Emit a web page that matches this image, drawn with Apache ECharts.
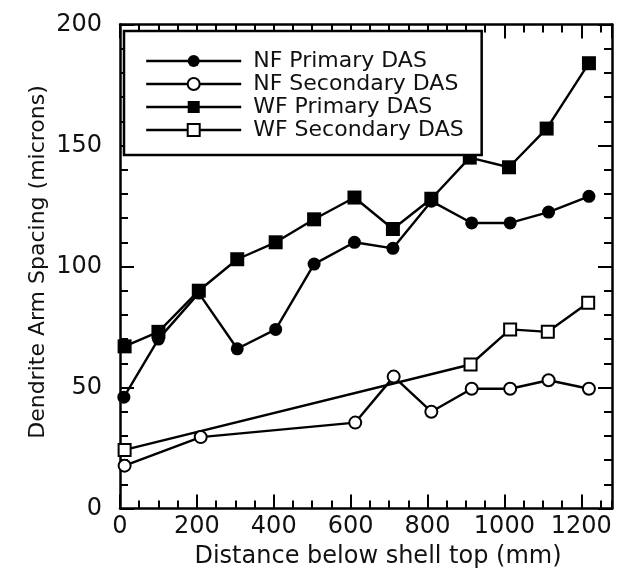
<!DOCTYPE html>
<html>
<head>
<meta charset="utf-8">
<script src="https://cdn.jsdelivr.net/npm/echarts@6/dist/echarts.min.js"></script>
<style>
  html, body { margin: 0; padding: 0; background: #fff; }
  #chart { width: 617px; height: 575px; }
</style>
</head>
<body>
<div id="chart"></div>
<script>
// Dendrite arm spacing vs. distance below shell top
const seriesNames = ['NF Primary DAS', 'NF Secondary DAS', 'WF Primary DAS', 'WF Secondary DAS'];

const nfPrimaryDist = [10, 100, 205, 305, 405, 505, 610, 710, 810, 915, 1015, 1115, 1220];
const nfPrimaryDas  = [46, 70, 89, 66, 74, 101, 110, 107.5, 127, 118, 118, 122.5, 129];

const nfSecondaryDist = [12, 210, 612, 712, 810, 915, 1015, 1115, 1220];
const nfSecondaryDas  = [17.7, 29.5, 35.5, 54.5, 40, 49.5, 49.5, 53, 49.5];

const wfPrimaryDist = [12, 100, 205, 305, 405, 505, 610, 710, 810, 910, 1012, 1110, 1220];
const wfPrimaryDas  = [67, 73, 90, 103, 110, 119.5, 128.5, 115.5, 128, 145, 141, 157, 184];

const wfSecondaryDist = [12, 912, 1015, 1113, 1218];
const wfSecondaryDas  = [24.2, 59.5, 74, 73, 85];

const xTickLabels = [0, 200, 400, 600, 800, 1000, 1200];
const yTickLabels = [0, 50, 100, 150, 200];

const xTitle = 'Distance below shell top (mm)';
const yTitle = 'Dendrite Arm Spacing (microns)';

const FONT = '"DejaVu Sans", sans-serif';
const INK = '#111';

function pairs(xs, ys) {
  return xs.map((x, i) => [x, ys[i]]);
}

const X_MIN = xTickLabels[0];
const X_MAX = 1280;
const X_STEP = xTickLabels[1] - xTickLabels[0];
const Y_MIN = yTickLabels[0];
const Y_MAX = yTickLabels[yTickLabels.length - 1];
const Y_STEP = yTickLabels[1] - yTickLabels[0];

const lineColor = '#000';
const FRAME_W = 2.5;
const LINE_W = 2.4;

// Frame axes: major ticks every 200 mm, minor every 50 mm, all pointing into the plot
function xAxisDef(position, interval, tickLen, withLabels, withLine) {
  return {
    type: 'value', position: position, min: X_MIN, max: X_MAX, interval: interval,
    axisLine: { show: withLine, onZero: false, lineStyle: { color: lineColor, width: FRAME_W } },
    axisTick: { show: true, inside: true, length: tickLen, lineStyle: { color: lineColor, width: 2 } },
    axisLabel: {
      show: withLabels, margin: 6, fontSize: 24, fontFamily: FONT, color: INK,
      showMaxLabel: false,
      formatter: v => (xTickLabels.indexOf(v) >= 0 ? String(v) : '')
    },
    splitLine: { show: false }
  };
}

function yAxisDef(position, withLabels) {
  return {
    type: 'value', position: position, min: Y_MIN, max: Y_MAX, interval: Y_STEP,
    axisLine: { show: true, onZero: false, lineStyle: { color: lineColor, width: FRAME_W } },
    axisTick: { show: true, inside: true, length: 14, lineStyle: { color: lineColor, width: 2 } },
    minorTick: { show: true, splitNumber: 5, length: 8, lineStyle: { color: lineColor, width: 2 } },
    axisLabel: { show: withLabels, margin: 18, fontSize: 24, fontFamily: FONT, color: INK },
    splitLine: { show: false },
    minorSplitLine: { show: false }
  };
}

function seriesDef(name, xs, ys, symbol, size) {
  const empty = symbol.indexOf('empty') === 0;
  return {
    name: name, type: 'line', xAxisIndex: 0, yAxisIndex: 0,
    data: pairs(xs, ys),
    symbol: symbol, symbolSize: size, showSymbol: true, showAllSymbol: true,
    lineStyle: { color: lineColor, width: LINE_W },
    itemStyle: { color: lineColor, borderColor: lineColor, borderWidth: empty ? 2 : 0 },
    emphasis: { disabled: true },
    clip: false
  };
}

const chart = echarts.init(document.getElementById('chart'), null, { renderer: 'canvas' });

chart.setOption({
  animation: false,
  backgroundColor: '#fff',
  grid: { left: 120, right: 5, top: 24.5, bottom: 66.5, containLabel: false },
  xAxis: [
    xAxisDef('bottom', X_STEP, 14, true, true),
    xAxisDef('bottom', X_STEP / 4, 8, false, false),
    xAxisDef('top', X_STEP, 14, false, true),
    xAxisDef('top', X_STEP / 4, 8, false, false)
  ],
  yAxis: [
    yAxisDef('left', true),
    yAxisDef('right', false)
  ],
  legend: {
    orient: 'vertical', left: 124, top: 31,
    padding: [19, 18, 14, 21],
    backgroundColor: '#fff', borderColor: '#000', borderWidth: 2.5, borderRadius: 0,
    itemWidth: 95, itemHeight: 15, itemGap: 1,
    lineStyle: { width: LINE_W },
    textStyle: { fontSize: 22, fontFamily: FONT, color: INK, lineHeight: 22, padding: [0, 0, 0, 7] },
    selectedMode: false,
    data: seriesNames
  },
  series: [
    seriesDef(seriesNames[0], nfPrimaryDist, nfPrimaryDas, 'circle', 13),
    seriesDef(seriesNames[1], nfSecondaryDist, nfSecondaryDas, 'emptyCircle', 12),
    seriesDef(seriesNames[2], wfPrimaryDist, wfPrimaryDas, 'rect', 14),
    seriesDef(seriesNames[3], wfSecondaryDist, wfSecondaryDas, 'emptyRect', 12)
  ],
  graphic: [
    {
      type: 'text', x: 378, y: 557,
      style: { text: xTitle, font: '24px ' + FONT, fill: INK, align: 'center', verticalAlign: 'middle' }
    },
    {
      type: 'text', x: 38, y: 262, rotation: Math.PI / 2,
      style: { text: yTitle, font: '22px ' + FONT, fill: INK, align: 'center', verticalAlign: 'middle' }
    }
  ]
});
</script>
</body>
</html>
